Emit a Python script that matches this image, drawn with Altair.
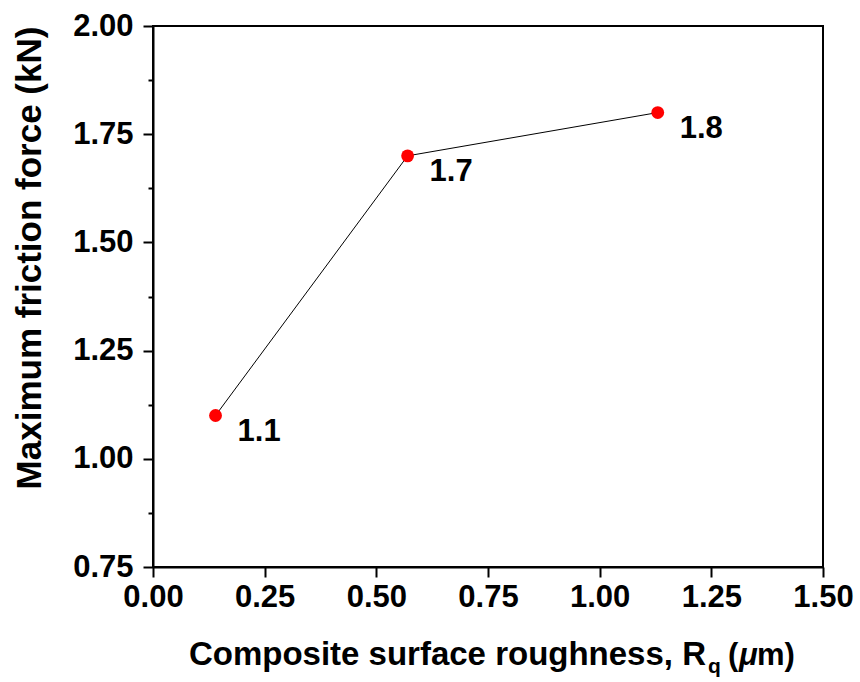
import altair as alt
import pandas as pd

# Measured roughness vs. peak friction force
roughness = [0.14, 0.57, 1.13]
friction = [1.1, 1.7, 1.8]
value_labels = ["1.1", "1.7", "1.8"]

x_ticks = [0.0, 0.25, 0.5, 0.75, 1.0, 1.25, 1.5]
y_ticks = [0.75, 0.875, 1.0, 1.125, 1.25, 1.375, 1.5, 1.625, 1.75, 1.875, 2.0]

df = pd.DataFrame({"rq": roughness, "force": friction, "label": value_labels})

FONT = "Liberation Sans"
W, H = 670, 541
major = "abs(datum.value*4 - round(datum.value*4)) < 0.001"

x_enc = alt.X(
    "rq:Q",
    scale=alt.Scale(domain=[0, 1.5], nice=False, zero=False),
    axis=alt.Axis(
        values=x_ticks, format=".2f", title=None, grid=False,
        tickSize=10, tickWidth=2, domainWidth=2, domainColor="black", tickColor="black",
        labelFont=FONT, labelFontSize=31, labelFontWeight="bold", labelColor="black",
        labelPadding=5, labelFlush=False, labelOverlap=False,
    ),
)
y_enc = alt.Y(
    "force:Q",
    scale=alt.Scale(domain=[0.75, 2.0], nice=False, zero=False),
    axis=alt.Axis(
        values=y_ticks, title=None, grid=False,
        labelExpr=f"{major} ? format(datum.value, '.2f') : ''",
        tickSize={"condition": {"test": major, "value": 10}, "value": 5},
        tickWidth=2, domainWidth=2, domainColor="black", tickColor="black",
        labelFont=FONT, labelFontSize=31, labelFontWeight="bold", labelColor="black",
        labelPadding=10, labelFlush=False, labelOverlap=False,
    ),
)

base = alt.Chart(df)

line = base.mark_line(color="black", strokeWidth=1).encode(x=x_enc, y=y_enc)
points = base.mark_circle(color="#ff0000", opacity=1, size=165).encode(x="rq:Q", y="force:Q")
labels = base.mark_text(
    align="left", baseline="alphabetic", dx=22, dy=25,
    font=FONT, fontSize=31, fontWeight="bold", color="black",
).encode(x="rq:Q", y="force:Q", text="label:N")

# Axis titles drawn as text so the subscript q and italic mu can be set
title_df = pd.DataFrame({"k": [0]})
tbase = alt.Chart(title_df)


def title_piece(txt, x, y, size, align="left", style="normal"):
    return tbase.mark_text(
        align=align, baseline="alphabetic", font=FONT, fontSize=size,
        fontWeight="bold", fontStyle=style, color="black",
    ).encode(x=alt.value(x), y=alt.value(y), text=alt.value(txt))


title_main = title_piece("Composite surface roughness, R", 553, 639, 33, align="right")
title_sub = title_piece("q", 555, 647, 21)
title_open = title_piece("(", 575, 639, 31)
title_mu = title_piece("μ", 586, 639, 31, style="italic")
title_close = title_piece("m)", 604, 639, 31)
title_y = tbase.mark_text(
    align="center", baseline="middle", angle=270, font=FONT, fontSize=35,
    fontWeight="bold", color="black",
).encode(x=alt.value(-123), y=alt.value(232), text=alt.value("Maximum friction force (kN)"))

chart = (
    alt.layer(line, points, labels, title_main, title_sub, title_open, title_mu,
              title_close, title_y)
    .properties(
        width=W, height=H,
        autosize=alt.AutoSizeParams(type="none"),
        padding={"left": 153, "top": 26, "right": 37, "bottom": 115},
        background="white",
    )
    .configure_view(stroke="black", strokeWidth=2)
)

chart.save("out.html", embed_options={"renderer": "svg", "actions": False})
